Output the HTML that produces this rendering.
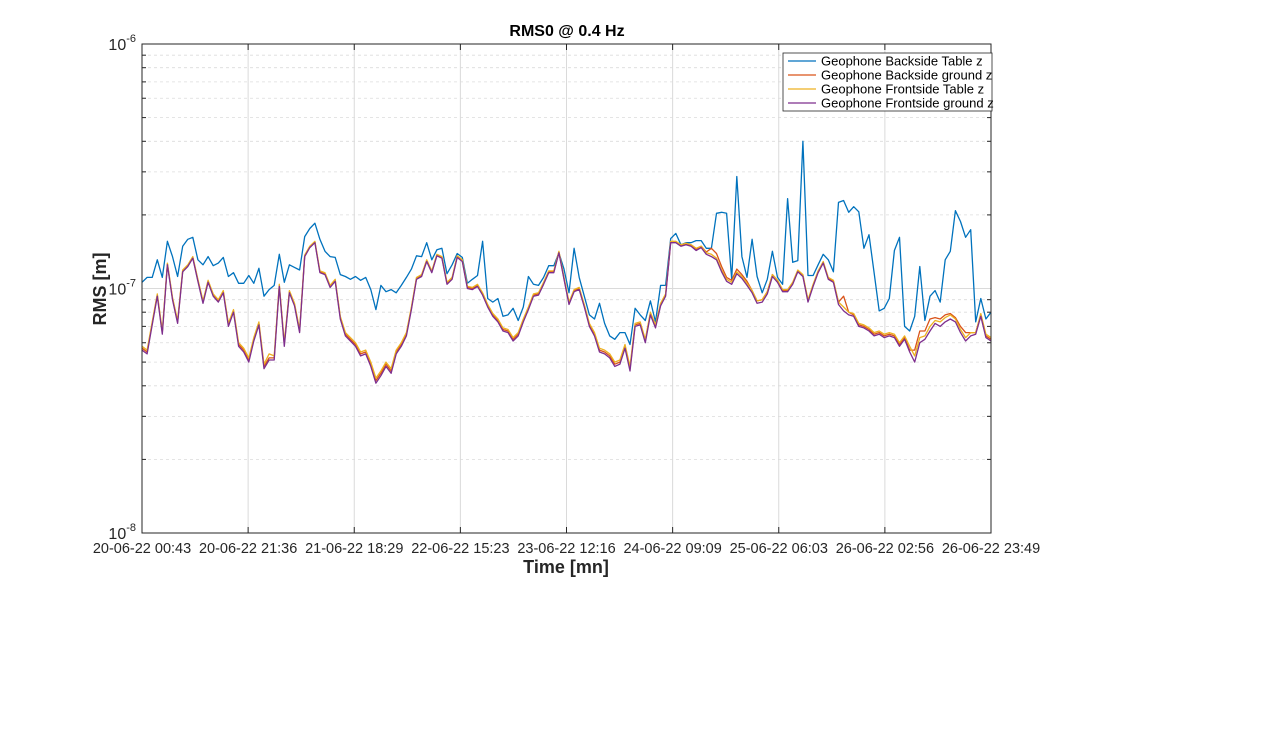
<!DOCTYPE html>
<html><head><meta charset="utf-8"><style>
body{margin:0;background:#fff;width:1280px;height:750px;overflow:hidden;font-family:"Liberation Sans",Arial,sans-serif}
svg text{font-family:"Liberation Sans",Arial,sans-serif}
</style></head><body>
<svg id="chart" width="1280" height="750" xmlns="http://www.w3.org/2000/svg">
<rect x="0" y="0" width="1280" height="750" fill="#fff"/>
<g id="grid"></g><g id="series"></g><g id="axes"></g>
<text x="567" y="36" text-anchor="middle" font-size="16" font-weight="bold" fill="#000">RMS0 @ 0.4 Hz</text>
<text x="566" y="573" text-anchor="middle" font-size="18" font-weight="bold" fill="#262626">Time [mn]</text>
<text transform="translate(106,289) rotate(-90)" text-anchor="middle" font-size="18" font-weight="bold" fill="#262626">RMS [m]</text>
<g id="legend"></g>
</svg>
<script>
const seriesNames=["Geophone Backside Table z","Geophone Backside ground z","Geophone Frontside Table z","Geophone Frontside ground z"];
const seriesColors=["#0072BD","#D95319","#EDB120","#7E2F8E"];
const xTickLabels=["20-06-22 00:43","20-06-22 21:36","21-06-22 18:29","22-06-22 15:23","23-06-22 12:16","24-06-22 09:09","25-06-22 06:03","26-06-22 02:56","26-06-22 23:49"];
const yTickExponents=[-8,-7,-6];
// values in units of 1e-8 m
const backTable=[10.6,11.1,11.1,13.1,11.1,15.6,13.5,11.2,14.9,15.9,16.2,13.1,12.5,13.5,12.4,12.7,13.4,11.2,11.6,10.5,10.5,11.3,10.5,12.1,9.3,9.9,10.3,13.8,10.6,12.5,12.2,11.9,16.3,17.6,18.5,15.9,14.2,13.5,13.4,11.4,11.2,10.9,11.2,10.8,
11.1,9.9,8.2,10.3,9.7,9.9,9.6,10.3,11.1,12.0,13.6,13.5,15.4,13.1,14.4,14.6,11.5,12.5,13.9,13.4,10.5,10.9,11.3,15.6,9.1,8.8,9.1,7.7,7.8,8.3,7.4,8.4,11.2,10.4,10.3,11.1,12.4,12.4,14.0,12.0,9.6,
14.6,11.1,9.3,7.8,7.5,8.7,7.2,6.4,6.2,6.6,6.6,5.9,8.3,7.8,7.4,8.9,7.3,10.3,10.3,16.0,16.8,15.1,15.4,15.4,15.7,15.7,14.6,14.6,20.3,20.5,20.3,10.9,28.7,13.5,11.1,15.9,11.2,9.6,10.9,14.2,11.1,
10.4,23.3,12.8,13.0,40.0,11.3,11.3,12.5,13.8,13.1,11.7,22.5,22.9,20.5,21.6,20.6,14.6,16.6,11.6,8.1,8.3,9.1,14.3,16.2,7.0,6.7,7.7,12.3,7.4,9.3,9.8,8.8,13.1,14.2,20.8,18.8,16.2,17.4,7.3,9.1,7.5,8.0];
const backGround=[5.7,5.5,7.2,9.4,6.6,12.6,9.1,7.3,11.8,12.4,13.4,10.8,8.8,10.7,9.4,8.9,9.7,7.1,8.1,5.9,5.6,5.1,6.2,7.2,4.8,5.2,5.2,10.3,5.9,9.7,8.6,6.7,13.6,14.8,15.5,11.7,11.5,10.2,10.8,7.6,6.5,6.2,5.9,5.4,
5.5,4.9,4.2,4.5,4.9,4.6,5.5,5.9,6.5,8.3,11.0,11.3,13.0,11.7,13.7,13.4,10.5,11.0,13.5,13.0,10.1,10.0,10.3,9.5,8.5,7.8,7.4,6.8,6.7,6.2,6.5,7.4,8.3,9.4,9.5,10.5,11.7,11.7,14.1,11.0,8.7,
9.8,10.0,8.5,7.1,6.5,5.6,5.5,5.3,4.9,5.0,5.8,4.7,7.1,7.2,6.1,7.9,7.0,8.6,9.4,15.5,15.5,15.0,15.2,15.0,14.5,14.9,14.1,14.6,13.9,12.3,11.1,10.8,12.0,11.4,10.7,9.8,8.9,9.0,9.7,11.4,10.8,
9.8,9.8,10.5,11.8,11.3,8.9,10.3,11.7,12.8,11.0,10.7,8.8,9.3,8.0,7.8,7.1,7.0,6.8,6.5,6.6,6.4,6.5,6.4,5.9,6.3,5.6,5.6,6.7,6.7,7.5,7.6,7.5,7.8,7.9,7.6,7.0,6.6,6.6,6.6,7.8,6.4,6.2];
const frontTable=[5.8,5.6,7.3,9.5,6.7,12.7,9.2,7.4,11.9,12.5,13.5,10.9,8.9,10.8,9.5,9.0,9.8,7.2,8.2,6.0,5.7,5.2,6.3,7.3,4.9,5.4,5.3,10.4,6.0,9.8,8.7,6.8,13.7,14.9,15.6,11.8,11.6,10.3,10.9,7.7,6.6,6.3,6.0,5.5,
5.6,5.0,4.3,4.6,5.0,4.7,5.6,6.0,6.6,8.4,11.1,11.4,13.1,11.8,13.8,13.5,10.6,11.1,13.6,13.1,10.2,10.1,10.4,9.6,8.6,7.9,7.5,6.9,6.8,6.3,6.6,7.5,8.4,9.5,9.6,10.6,11.8,11.8,14.2,11.1,8.8,
9.9,10.1,8.6,7.2,6.6,5.7,5.6,5.4,5.0,5.1,5.9,4.8,7.2,7.3,6.2,8.0,7.1,8.7,9.5,15.6,15.6,15.1,15.3,15.1,14.6,14.9,14.0,13.8,13.3,11.9,10.9,10.6,11.7,11.2,10.5,9.8,8.9,9.0,9.7,11.4,10.8,
9.9,9.9,10.6,11.9,11.4,9.0,10.4,11.8,12.9,11.1,10.8,8.8,8.4,8.0,7.9,7.2,7.1,6.9,6.6,6.7,6.5,6.6,6.5,6.0,6.4,5.8,5.3,6.3,6.4,7.0,7.4,7.3,7.6,7.8,7.5,6.8,6.3,6.6,6.6,7.9,6.5,6.3];
const frontGround=[5.6,5.4,7.1,9.3,6.5,12.5,9.0,7.2,11.7,12.3,13.3,10.7,8.7,10.6,9.3,8.8,9.6,7.0,8.0,5.8,5.5,5.0,6.1,7.1,4.7,5.1,5.1,10.2,5.8,9.6,8.5,6.6,13.5,14.7,15.4,11.6,11.4,10.1,10.7,7.5,6.4,6.1,5.8,5.3,
5.4,4.8,4.1,4.4,4.8,4.5,5.4,5.8,6.4,8.2,10.9,11.2,12.9,11.6,13.6,13.3,10.4,10.9,13.4,12.9,10.0,9.9,10.2,9.4,8.4,7.7,7.3,6.7,6.6,6.1,6.4,7.3,8.2,9.3,9.4,10.4,11.6,11.6,14.0,10.9,8.6,
9.7,9.9,8.4,7.0,6.4,5.5,5.4,5.2,4.8,4.9,5.7,4.6,7.0,7.1,6.0,7.8,6.9,8.5,9.3,15.4,15.4,14.9,15.1,14.9,14.3,14.7,13.8,13.5,13.1,11.7,10.7,10.4,11.5,11.0,10.3,9.6,8.7,8.8,9.5,11.2,10.6,
9.7,9.7,10.4,11.7,11.2,8.8,10.2,11.6,12.7,10.9,10.6,8.6,8.1,7.8,7.7,7.0,6.9,6.7,6.4,6.5,6.3,6.4,6.3,5.8,6.2,5.5,5.0,6.0,6.2,6.7,7.2,7.0,7.3,7.5,7.3,6.6,6.1,6.4,6.5,7.7,6.3,6.1];
const allSeries=[backTable,backGround,frontTable,frontGround];

const NS="http://www.w3.org/2000/svg";
const X0=142,X1=991,Y0=44,Y1=533,LOGMIN=-8,LOGMAX=-6;
function xScale(frac){return X0+frac*(X1-X0);}
function yScale(v){return Y1-(Math.log10(v)-LOGMIN)/(LOGMAX-LOGMIN)*(Y1-Y0);}
function mk(tag,attrs,parent){const e=document.createElementNS(NS,tag);for(const k in attrs)e.setAttribute(k,attrs[k]);parent.appendChild(e);return e;}
const grid=document.getElementById('grid'),axes=document.getElementById('axes'),ser=document.getElementById('series'),leg=document.getElementById('legend');
const nT=xTickLabels.length;
// minor horizontal dashed grid
for(let e=LOGMIN;e<LOGMAX;e++){for(let m=2;m<=9;m++){const y=yScale(m*Math.pow(10,e));
 const l=mk('line',{x1:X0,x2:X1,y1:y,y2:y,stroke:'#dcdcdc','stroke-width':0.8,'stroke-dasharray':'3,3'},grid);
 
 
 mk('line',{x1:X0,x2:X0+4,y1:y,y2:y,stroke:'#262626','stroke-width':1},axes);
 mk('line',{x1:X1,x2:X1-4,y1:y,y2:y,stroke:'#262626','stroke-width':1},axes);}}
yTickExponents.forEach(e=>{const y=yScale(Math.pow(10,e));
 const l=mk('line',{x1:X0,x2:X1,y1:y,y2:y,stroke:'#dadada','stroke-width':1},grid);
 
 
 const t=mk('text',{x:X0-6,y:y+6,'text-anchor':'end','font-size':16,fill:'#262626'},axes);
 
 
 t.textContent='10';const s=mk('tspan',{dy:-8,'font-size':11},t);s.textContent=String(e);
});
xTickLabels.forEach((lab,i)=>{const x=xScale(i/(nT-1));
 if(i>0&&i<nT-1){const l=mk('line',{x1:x,x2:x,y1:Y0,y2:Y1,stroke:'#dadada','stroke-width':1},grid);
 
 }
 mk('line',{x1:x,x2:x,y1:Y1,y2:Y1-6,stroke:'#262626','stroke-width':1},axes);
 mk('line',{x1:x,x2:x,y1:Y0,y2:Y0+6,stroke:'#262626','stroke-width':1},axes);
 const t=mk('text',{x:x,y:553,'text-anchor':'middle','font-size':14.5,fill:'#262626'},axes);
 
 
 t.textContent=lab;});
const box=mk('rect',{x:X0,y:Y0,width:X1-X0,height:Y1-Y0,fill:'none',stroke:'#262626','stroke-width':1},axes);


allSeries.forEach((arr,si)=>{const n=arr.length;
 const pts=arr.map((v,i)=>xScale(i/(n-1)).toFixed(1)+','+yScale(v*1e-8).toFixed(1)).join(' ');
 const p=mk('polyline',{points:pts,fill:'none',stroke:seriesColors[si],'stroke-width':1.3,'stroke-linejoin':'round'},ser);
 
 });
mk('rect',{x:783,y:53,width:209,height:58,fill:'#fff',stroke:'#262626','stroke-width':0.8},leg);
seriesNames.forEach((nm,i)=>{const y=61+i*14;
 const g=mk('g',{},leg);
 
 
 mk('line',{x1:788,x2:816,y1:y,y2:y,stroke:seriesColors[i],'stroke-width':1.3},g);
 const t=mk('text',{x:821,y:y+4.5,'font-size':13,fill:'#000'},g);t.textContent=nm;});
</script>
</body></html>
